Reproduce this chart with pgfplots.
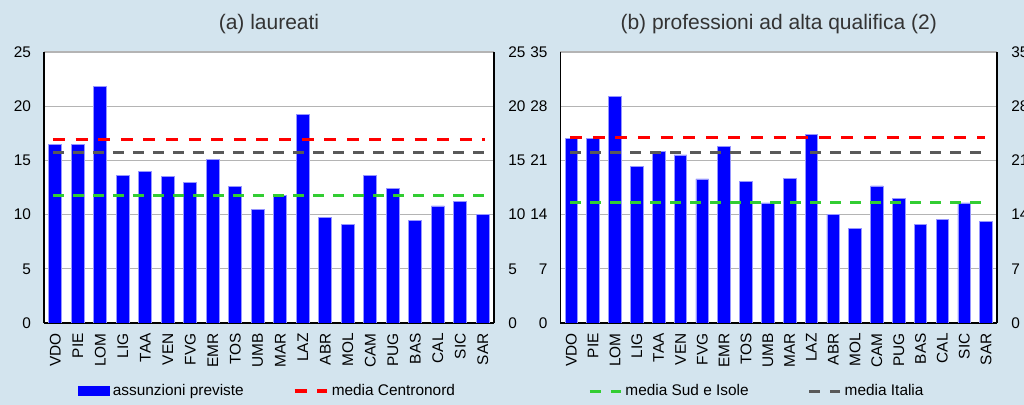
\documentclass[border=0pt]{standalone}
\usepackage{pgfplots}
\pgfplotsset{compat=1.18}
\usepackage{fontspec}
\setmainfont{Liberation Sans}
\definecolor{bg}{RGB}{211,228,238}
\definecolor{barblue}{RGB}{0,0,255}
\definecolor{baredge}{RGB}{150,150,255}
\definecolor{gridg}{RGB}{180,180,180}
\definecolor{lred}{RGB}{255,0,0}
\definecolor{lgray}{RGB}{89,89,89}
\definecolor{lgreen}{RGB}{50,205,50}
\definecolor{titlec}{RGB}{51,51,51}
\newcommand{\tfont}{\fontsize{7.7}{9}\selectfont}
\pgfplotsset{
  /pgf/number format/assume math mode=true,
  common/.style={
    scale only axis, xmin=-0.5, xmax=19.5, ymin=0,
    major tick length=0pt,
    tick label style={font=\tfont, text=black},
    axis line style={black, line width=0.7pt},
    legend style={anchor=west, draw=none, fill=none, inner sep=0pt, outer sep=0pt,
      font=\tfont, nodes={inner sep=0pt}, column sep=1.5pt, cells={anchor=west}},
  },
  mainax/.style={
    common,
    axis background/.style={fill=white},
    axis x line*=bottom, axis y line*=left,
    xtick={0,...,19},
    xticklabels={VDO,PIE,LOM,LIG,TAA,VEN,FVG,EMR,TOS,UMB,MAR,LAZ,ABR,MOL,CAM,PUG,BAS,CAL,SIC,SAR},
    xticklabel style={yshift=-5pt, rotate=90, anchor=east, inner sep=0pt},
    yticklabel style={anchor=east, inner sep=0pt, xshift=-6.3pt},
    ymajorgrids, grid style={gridg, line width=0.6pt},
    title style={at={(0.5,1)}, anchor=center, yshift=8pt, font=\fontsize{10.5}{12}\selectfont, text=titlec},
  },
  rightax/.style={
    common,
    axis x line=none, axis y line*=right,
    xtick=\empty,
    yticklabel style={anchor=west, inner sep=0pt, xshift=7pt},
  },
  barst/.style={ybar, fill=barblue, draw=baredge, line width=0.4pt, forget plot},
  redl/.style={lred, line width=1.65pt, dash pattern=on 6pt off 5.3pt, forget plot},
  grayl/.style={lgray, line width=1.5pt, dash pattern=on 5.5pt off 4.5pt, forget plot},
  greenl/.style={lgreen, line width=1.5pt, dash pattern=on 5.5pt off 4.5pt, forget plot},
}
\begin{document}
\begin{tikzpicture}
\useasboundingbox (0,0) rectangle (512pt,202.5pt);
\fill[bg] (0,0) rectangle (512pt,202.5pt);
\clip (0,0) rectangle (512pt,202.5pt);

% ---------- panel (a)
\begin{axis}[mainax, at={(22pt,41pt)}, anchor=south west, width=225pt, height=135.5pt,
  ymax=25, ytick={0,5,...,25}, title={(a) laureati},
  legend style={at={(0.0756,-0.251)}}]
\addplot[barst, bar width=6.5pt] coordinates {
(0,16.5) (1,16.5) (2,21.8) (3,13.6) (4,14.0) (5,13.5) (6,13.0) (7,15.1) (8,12.6) (9,10.5)
(10,11.8) (11,19.2) (12,9.7) (13,9.1) (14,13.6) (15,12.4) (16,9.5) (17,10.8) (18,11.2) (19,10.0)};
\addplot[redl] coordinates {(-0.1,16.9) (19.1,16.9)};
\addplot[grayl] coordinates {(-0.1,15.75) (19.1,15.75)};
\addplot[greenl] coordinates {(-0.1,11.75) (19.1,11.75)};
\addlegendimage{legend image code/.code={\fill[barblue] (0pt,-2.25pt) rectangle (15.5pt,2.25pt);}}
\addlegendentry{assunzioni previste}
\end{axis}
\begin{axis}[rightax, at={(22pt,41pt)}, anchor=south west, width=225pt, height=135.5pt,
  ymax=25, ytick={0,5,...,25},
  legend style={at={(0.553,-0.251)}}]
\addlegendimage{legend image code/.code={\draw[lred,line width=1.65pt,dash pattern=on 6pt off 5.3pt] (0pt,0pt)--(16.3pt,0pt);}}
\addlegendentry{media Centronord}
\end{axis}

% ---------- panel (b)
\begin{axis}[mainax, at={(280.2pt,41pt)}, anchor=south west, width=218.3pt, height=135.5pt,
  ymax=35, ytick={0,7,...,35}, title={(b) professioni ad alta qualifica (2)},
  legend style={at={(0.0642,-0.251)}}]
\addplot[barst, bar width=6.3pt] coordinates {
(0,23.8) (1,23.8) (2,29.3) (3,20.2) (4,22.1) (5,21.7) (6,18.6) (7,22.8) (8,18.3) (9,15.5)
(10,18.7) (11,24.4) (12,14.0) (13,12.2) (14,17.7) (15,16.1) (16,12.7) (17,13.4) (18,15.5) (19,13.1)};
\addplot[redl] coordinates {(-0.05,24.0) (18.95,24.0)};
\addplot[grayl] coordinates {(-0.05,22.05) (18.95,22.05)};
\addplot[greenl] coordinates {(-0.05,15.6) (18.95,15.6)};
\addlegendimage{legend image code/.code={\draw[lgreen,line width=1.5pt,dash pattern=on 5.5pt off 5pt] (0pt,0pt)--(15.5pt,0pt);}}
\addlegendentry{media Sud e Isole}
\end{axis}
\begin{axis}[rightax, at={(280.2pt,41pt)}, anchor=south west, width=218.3pt, height=135.5pt,
  ymax=35, ytick={0,7,...,35},
  legend style={at={(0.5665,-0.251)}}]
\addlegendimage{legend image code/.code={\draw[lgray,line width=1.5pt,dash pattern=on 5.5pt off 5pt] (0pt,0pt)--(15.5pt,0pt);}}
\addlegendentry{media Italia}
\end{axis}
\end{tikzpicture}
\end{document}
